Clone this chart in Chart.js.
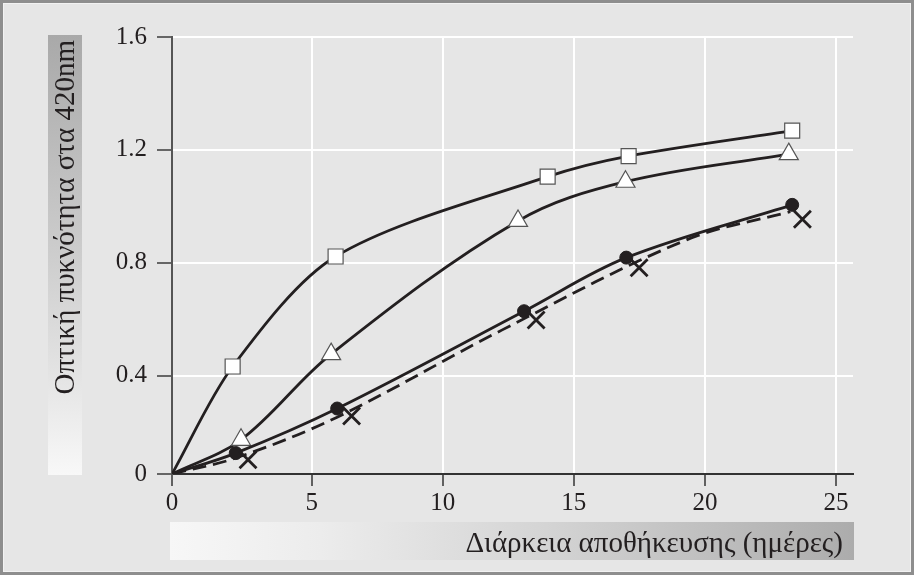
<!DOCTYPE html>
<html><head><meta charset="utf-8">
<script src="https://cdn.jsdelivr.net/npm/chart.js@4.4.0/dist/chart.umd.min.js"></script>
<style>html,body{margin:0;padding:0;background:#e6e6e6;}#wrap{width:914px;height:575px;position:relative;}canvas{display:block;}</style>
</head><body><div id="wrap"><canvas id="c" width="914" height="575"></canvas></div>
<script>
// ---- data ----
const xTickValues = [0, 5, 10, 15, 20, 25];
const xTickLabels = ['0', '5', '10', '15', '20', '25'];
const yTickValues = [0, 0.4, 0.8, 1.2, 1.6];
const yTickLabels = ['0', '0.4', '0.8', '1.2', '1.6'];

const squareDays   = [0, 2.17, 5.91, 14.0, 17.09, 23.33];
const squareOD     = [0, 0.432, 0.822, 1.105, 1.178, 1.268];
const triangleDays = [0, 2.47, 5.74, 12.87, 16.97, 23.2];
const triangleOD   = [0, 0.139, 0.476, 0.948, 1.087, 1.185];
const circleDays   = [0, 2.28, 5.97, 13.1, 17.0, 23.33];
const circleOD     = [0, 0.085, 0.266, 0.628, 0.818, 1.005];
const dashedDays   = [0, 2.28, 5.97, 12.25, 19.3, 23.26];
const dashedOD     = [0, 0.065, 0.231, 0.561, 0.881, 0.981];
const crossDays    = [2.72, 6.52, 13.56, 17.49, 23.72];
const crossOD      = [0.058, 0.236, 0.597, 0.782, 0.954];

const xTitle = 'Διάρκεια αποθήκευσης (ημέρες)';
const yTitle = 'Οπτική πυκνότητα στα 420nm';

// ---- helpers ----
const pts = (xs, ys) => xs.map((x, i) => ({x: x, y: ys[i]}));
const radii = (n, r) => Array.from({length: n}, (_, i) => i === 0 ? 0 : r);

const Base = Chart.LinearScale || Chart.registry.getScale('linear');
class PiecewiseScale extends Base {
  _toDec(v) {
    const k = this.options.knots;
    let i = 0;
    while (i < k.length - 2 && v > k[i + 1][0]) i++;
    const a = k[i], b = k[i + 1];
    return a[1] + (v - a[0]) / (b[0] - a[0]) * (b[1] - a[1]);
  }
  _fromDec(d) {
    const k = this.options.knots;
    let i = 0;
    while (i < k.length - 2 && d > k[i + 1][1]) i++;
    const a = k[i], b = k[i + 1];
    return a[0] + (d - a[1]) / (b[1] - a[1]) * (b[0] - a[0]);
  }
  getPixelForValue(value) {
    if (value === null || value === undefined || isNaN(value)) return NaN;
    return this.getPixelForDecimal(this._toDec(value));
  }
  getValueForPixel(pixel) {
    return this._fromDec(this.getDecimalForPixel(pixel));
  }
}
PiecewiseScale.id = 'piecewise';
PiecewiseScale.defaults = Base.defaults;
Chart.register(PiecewiseScale);

const INK = '#231f20';
const FONT = '"Liberation Serif", "Times New Roman", serif';

const decor = {
  id: 'decor',
  beforeDraw(chart) {
    const ctx = chart.ctx;
    ctx.save();
    ctx.fillStyle = '#e6e6e6';
    ctx.fillRect(0, 0, 914, 575);
    // frame
    ctx.strokeStyle = '#8e8e8e';
    ctx.lineWidth = 3;
    ctx.strokeRect(1.5, 1.5, 911, 572);
    ctx.strokeStyle = '#f2f2f2';
    ctx.lineWidth = 1;
    ctx.strokeRect(3.5, 3.5, 907, 568);
    // y title box
    let g = ctx.createLinearGradient(0, 35, 0, 475);
    g.addColorStop(0, '#a9a9a9');
    g.addColorStop(0.5, '#cdcdcd');
    g.addColorStop(0.8, '#e6e6e6');
    g.addColorStop(1, '#f8f8f8');
    ctx.fillStyle = g;
    ctx.fillRect(48, 35, 34, 440);
    // x title box
    g = ctx.createLinearGradient(170, 0, 854, 0);
    g.addColorStop(0, '#f7f7f7');
    g.addColorStop(0.22, '#ececec');
    g.addColorStop(0.55, '#d4d4d4');
    g.addColorStop(1, '#acacac');
    ctx.fillStyle = g;
    ctx.fillRect(170, 522, 684, 38);
    // titles
    ctx.fillStyle = INK;
    ctx.font = '29px ' + FONT;
    ctx.textAlign = 'right';
    ctx.textBaseline = 'alphabetic';
    ctx.fillText(xTitle, 843, 552);
    ctx.translate(74, 40);
    ctx.rotate(-Math.PI / 2);
    ctx.fillText(yTitle, 0, 0);
    ctx.restore();
  }
};

const lineStyle = {showLine: true, borderColor: INK, borderWidth: 2.8, tension: 0.4, fill: false};

new Chart(document.getElementById('c'), {
  type: 'scatter',
  data: {
    datasets: [
      Object.assign({}, lineStyle, {
        data: pts(crossDays, crossOD), showLine: false,
        pointStyle: 'crossRot', pointRadius: 12, pointBorderColor: INK, pointBorderWidth: 2.8, pointBackgroundColor: INK
      }),
      Object.assign({}, lineStyle, {
        data: pts(circleDays, circleOD), tension: 0.35,
        pointStyle: 'circle', pointRadius: radii(circleDays.length, 6.5), pointBackgroundColor: INK, pointBorderColor: INK, pointBorderWidth: 1
      }),
      Object.assign({}, lineStyle, {
        data: pts(dashedDays, dashedOD), tension: 0.35, borderDash: [14, 7], pointRadius: 0
      }),
      Object.assign({}, lineStyle, {
        data: pts(triangleDays, triangleOD), tension: 0.35,
        pointStyle: 'triangle', pointRadius: radii(triangleDays.length, 11), pointBackgroundColor: '#ffffff', pointBorderColor: '#555555', pointBorderWidth: 1.2
      }),
      Object.assign({}, lineStyle, {
        data: pts(squareDays, squareOD), tension: 0.3,
        pointStyle: 'rect', pointRadius: radii(squareDays.length, 10.6), pointBackgroundColor: '#ffffff', pointBorderColor: '#555555', pointBorderWidth: 1.2
      })
    ]
  },
  options: {
    responsive: false,
    animation: false,
    events: [],
    layout: {padding: {left: 0, top: 37, right: 61, bottom: 0}},
    plugins: {legend: {display: false}, tooltip: {enabled: false}},
    scales: {
      x: {
        type: 'piecewise', min: 0, max: 25.65,
        knots: [[0, 0], [5, 0.2052], [25.65, 1]],
        afterBuildTicks: s => { s.ticks = xTickValues.map(v => ({value: v})); },
        afterFit: s => { s.height = 101; },
        grid: {color: c => (c.tick && c.tick.value === 0) ? 'rgba(0,0,0,0)' : '#ffffff', lineWidth: 2, tickLength: 12, tickColor: '#333333', tickWidth: 1.5},
        border: {color: '#333333', width: 2},
        ticks: {
          autoSkip: false, maxRotation: 0, padding: 2, color: INK,
          font: {family: FONT, size: 25},
          callback: (v, i) => xTickLabels[i]
        }
      },
      y: {
        type: 'piecewise', min: 0, max: 1.6,
        knots: [[0, 0], [0.4, 0.2253], [1.6, 1]],
        afterBuildTicks: s => { s.ticks = yTickValues.map(v => ({value: v})); },
        afterFit: s => { s.width = 172; },
        grid: {color: c => (c.tick && c.tick.value === 0) ? 'rgba(0,0,0,0)' : '#ffffff', lineWidth: 2, tickLength: 15, tickColor: '#666666', tickWidth: 2},
        border: {color: '#555555', width: 2},
        ticks: {
          autoSkip: false, padding: 10, color: INK,
          font: {family: FONT, size: 25},
          callback: (v, i) => yTickLabels[i]
        }
      }
    }
  },
  plugins: [decor]
});
</script></body></html>
